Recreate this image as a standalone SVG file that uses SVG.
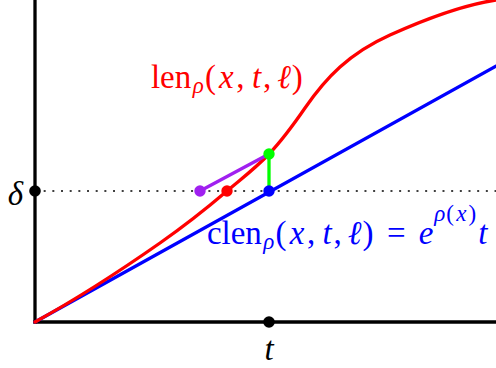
<svg xmlns="http://www.w3.org/2000/svg" width="496" height="368" viewBox="0 0 496 368">
<style>
.m{font-family:"Liberation Serif","DejaVu Serif",serif;font-size:33px;text-anchor:middle}
.i{font-style:italic}
.s{font-size:23px}
.axis{stroke:#000;stroke-width:3.3;fill:none;stroke-linecap:butt}
.thick{stroke-width:3.3;fill:none;stroke-linecap:round}
.dot{stroke:none}
</style>
<rect width="496" height="368" fill="#fff"/>
<g id="axes">
<line class="axis" x1="35" y1="0" x2="35" y2="323.6"/>
<line class="axis" x1="33.4" y1="322" x2="496" y2="322"/>
</g>
<g id="connectors">
<line id="delta-level" x1="35" y1="191" x2="496" y2="191" stroke="#000" stroke-width="1.3" stroke-dasharray="2 6.67"/>
<line id="clen-line" class="thick" x1="35" y1="322" x2="520" y2="52.7" stroke="#0000ff"/>
<path id="len-curve" class="thick" stroke="#ff0000" d="M35,322 C76.7,298.9 118.3,272.2 160,243 C182.3,227.4 204.7,210 227,191 C241,179.1 255,168.7 269,154 C281,141.4 293,125.4 305,108 C316.7,91.1 328.3,77.5 340,67 C356.7,52 373.3,42.5 390,35 C425.3,19.1 460.7,5.3 496,0 L505,-1.4"/>
<line id="purple-seg" class="thick" x1="200" y1="191" x2="269" y2="154" stroke="#a020f0"/>
<line id="green-seg" class="thick" x1="269" y1="154" x2="269" y2="191" stroke="#00ff00"/>
</g>
<g id="delta-mark">
<circle class="dot" cx="35" cy="191" r="5.8" fill="#000"/>
<text class="m i" x="15.5" y="204.5">δ</text>
</g>
<g id="t-mark">
<circle class="dot" cx="269" cy="322" r="5.8" fill="#000"/>
<text class="m i" x="269" y="360">t</text>
</g>
<g id="purple-point"><circle class="dot" cx="200" cy="191" r="5.7" fill="#a020f0"/></g>
<g id="red-point"><circle class="dot" cx="227" cy="191" r="5.7" fill="#ff0000"/></g>
<g id="blue-point"><circle class="dot" cx="269" cy="191" r="5.7" fill="#0000ff"/></g>
<g id="green-point"><circle class="dot" cx="269" cy="154" r="5.7" fill="#00ff00"/></g>
<g id="len-label">
<text class="m" y="88" fill="#ff0000"><tspan x="171.1">len</tspan><tspan class="i s" x="198.2" y="93">ρ</tspan><tspan x="210.5" y="88">(</tspan><tspan class="i" x="226.4">x</tspan><tspan x="240.4">,</tspan><tspan class="i" x="256.5">t</tspan><tspan x="267">,</tspan><tspan class="i" x="284">ℓ</tspan><tspan x="297.3">)</tspan></text>
</g>
<g id="clen-label">
<text class="m" y="244" fill="#0000ff"><tspan x="234.4">clen</tspan><tspan class="i s" x="268.8" y="249">ρ</tspan><tspan x="281.1" y="244">(</tspan><tspan class="i" x="297">x</tspan><tspan x="311">,</tspan><tspan class="i" x="327">t</tspan><tspan x="337.6">,</tspan><tspan class="i" x="354.6">ℓ</tspan><tspan x="367.9">)</tspan><tspan x="396.4">=</tspan><tspan class="i" x="426.1">e</tspan><tspan class="i s" x="439.8" y="221">ρ</tspan><tspan class="s" x="450.2">(</tspan><tspan class="i s" x="461.3">x</tspan><tspan class="s" x="472.4">)</tspan><tspan class="i" x="482.9" y="244">t</tspan></text>
</g>
</svg>
